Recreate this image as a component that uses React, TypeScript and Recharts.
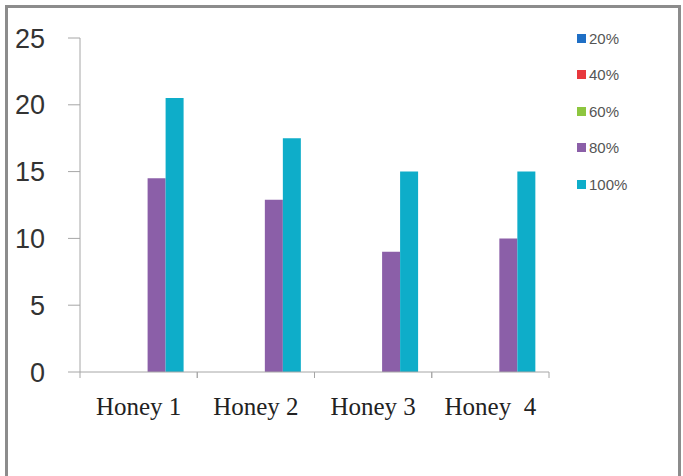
import React from 'react';
import { BarChart, Bar, XAxis, YAxis } from 'recharts';

const categories = ['Honey 1', 'Honey 2', 'Honey 3', 'Honey  4'];
const seriesNames = ['20%', '40%', '60%', '80%', '100%'];
const values20 = [0, 0, 0, 0];
const values40 = [0, 0, 0, 0];
const values60 = [0, 0, 0, 0];
const values80 = [14.5, 12.9, 9, 10];
const values100 = [20.5, 17.5, 15, 15];
const yTicks = [0, 5, 10, 15, 20, 25];

const colors = ['#1f6fc5', '#e8383d', '#8dc63f', '#8b5fa8', '#0eadc9'];
const seriesValues = [values20, values40, values60, values80, values100];

const data = categories.map((name, i) => {
  const row: Record<string, string | number> = { name };
  seriesNames.forEach((s, k) => {
    row[s] = seriesValues[k][i];
  });
  return row;
});

const axisGray = '#a6a6a6';

const HoneyTick = (props: any) => {
  const { x, y, payload } = props;
  const half = payload && payload.offset ? payload.offset : 58.6;
  const axisY = y - 8;
  return (
    <g>
      <line x1={x - half} y1={axisY} x2={x - half} y2={axisY + 6} stroke={axisGray} />
      <line x1={x + half} y1={axisY} x2={x + half} y2={axisY + 6} stroke={axisGray} />
      <text
        x={x}
        y={y}
        dy={35}
        textAnchor="middle"
        fill="#222"
        fontSize={25}
        fontFamily="'Liberation Serif', 'DejaVu Serif', serif"
        style={{ whiteSpace: 'pre' }}
      >
        {payload.value}
      </text>
    </g>
  );
};

export default function App() {
  return (
    <div
      style={{
        position: 'absolute',
        left: 0,
        top: 0,
        width: 683,
        height: 476,
        overflow: 'hidden',
        background: '#fff',
      }}
    >
      <div
        style={{
          position: 'absolute',
          left: 5,
          top: 5,
          width: 676,
          height: 500,
          boxSizing: 'border-box',
          border: '3px solid #8c8c8c',
        }}
      />
      <div style={{ position: 'absolute', left: 0, top: 0 }}>
        <BarChart
          width={683}
          height={476}
          data={data}
          margin={{ top: 38, right: 134, left: 20, bottom: 64 }}
          barCategoryGap="11.6%"
          barGap={0}
        >
          <XAxis
            dataKey="name"
            height={40}
            axisLine={{ stroke: axisGray }}
            tickLine={false}
            tickSize={6}
            tickMargin={2}
            interval={0}
            tick={<HoneyTick />}
          />
          <YAxis
            width={60}
            domain={[0, 25]}
            ticks={yTicks}
            interval={0}
            axisLine={{ stroke: axisGray }}
            tickLine={{ stroke: axisGray }}
            tickSize={12}
            tickMargin={23}
            tick={{ fill: '#333', fontSize: 27, fontFamily: "'Liberation Sans', Arial, sans-serif" }}
          />
          {seriesNames.map((s, k) => (
            <Bar key={s} dataKey={s} fill={colors[k]} isAnimationActive={false} />
          ))}
        </BarChart>
      </div>
      <div
        style={{
          position: 'absolute',
          left: 577,
          top: 20,
          fontFamily: "'Liberation Sans', Arial, sans-serif",
          fontSize: 15,
          color: '#555',
        }}
      >
        {seriesNames.map((s, k) => (
          <div key={s} style={{ height: 36.5, display: 'flex', alignItems: 'center' }}>
            <span
              style={{
                display: 'inline-block',
                width: 9,
                height: 9,
                background: colors[k],
                marginRight: 3,
              }}
            />
            <span>{s}</span>
          </div>
        ))}
      </div>
    </div>
  );
}
